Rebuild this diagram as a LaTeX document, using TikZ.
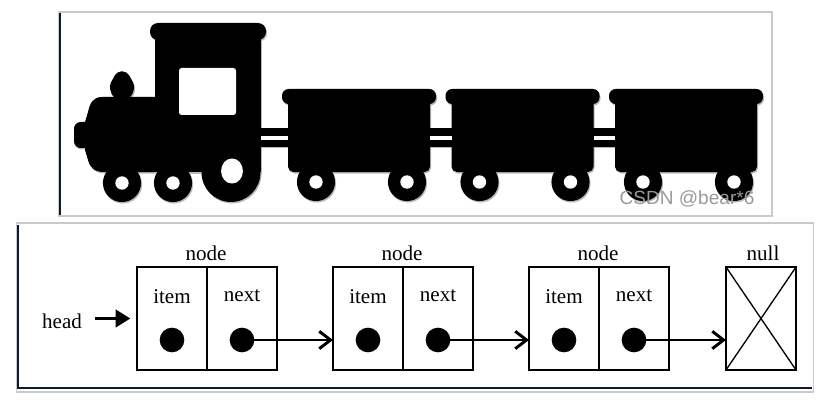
\documentclass[tikz,border=0pt]{standalone}
\usepackage{fontspec}
\setmainfont{Liberation Serif}
\newfontfamily\marksans{Liberation Sans}
\usetikzlibrary{arrows.meta}
\definecolor{framegrey}{gray}{0.79}
\definecolor{darkrule}{RGB}{15,25,45}
\definecolor{softshadow}{gray}{0.72}
\tikzset{
  x=0.75pt,y=-0.75pt,
  frameline/.style={draw=framegrey,line width=0.9pt},
  darkline/.style={draw=darkrule,line width=0.9pt},
  cell/.style={draw=black,line width=2pt,minimum width=52.5pt,minimum height=77.25pt,inner sep=0pt,outer sep=0pt},
  crossline/.style={draw=black,line width=1pt},
  ptr/.style={circle,fill=black,minimum size=18.5pt,inner sep=0pt,outer sep=0pt},
  lbl/.style={font=\fontsize{15.8pt}{17pt}\selectfont,inner sep=0pt,text=black},
  linkarrow/.style={draw=black,line width=2.2pt,-{Straight Barb[length=8.5pt,width=13pt,line width=2.2pt]}},
  headarrow/.style={draw=black,line width=2.2pt,-{Stealth[length=11pt,width=13pt,inset=0pt]}},
  watermark/.style={font=\marksans\fontsize{14.3pt}{16pt}\selectfont,text=black!40,inner sep=0pt}
}
\newcommand{\trainshape}[1]{%
  \fill[#1,rounded corners=6pt] (150,23) rectangle (266,40);
  \fill[#1] (155,32) rectangle (261,172);
  \fill[#1] (155,97) -- (102,97) .. controls (93,97) and (90,103) .. (88,112) -- (85,122) -- (85,150) -- (88,160) .. controls (90,168) and (95,172) .. (104,172) -- (155,172) -- cycle;
  \fill[#1,rounded corners=5pt] (74,122) rectangle (92,148);
  \fill[#1,rounded corners=3pt] (113,98) -- (109,86) -- (117,71.5) -- (127,71.5) -- (135,86) -- (131,98) -- cycle;
  \fill[#1] (231,172.5) circle[radius=22.1pt];
  \fill[#1] (122,183) circle[radius=14.3pt];
  \fill[#1] (173,183) circle[radius=14.3pt];
  \fill[#1] (258,128) rectangle (292,147);
  \fill[#1] (425,128) rectangle (455,147);
  \fill[#1] (590,128) rectangle (620,147);
  \foreach \wx in {0,163.5,327}{
    \fill[#1,rounded corners=5pt] (282+\wx,89) rectangle (436+\wx,104);
    \fill[#1,rounded corners=4pt] (288+\wx,95) rectangle (430+\wx,172);
    \fill[#1] (316+\wx,182) circle[radius=14.3pt];
    \fill[#1] (407+\wx,182) circle[radius=14.3pt];
  }
}
\begin{document}
\begin{tikzpicture}
\useasboundingbox (0,0) rectangle (836,403);
% top frame
\draw[frameline] (58.5,12) rectangle (772,216);
\draw[darkline] (60,13) -- (60,215);
% train
\begin{scope}[shift={(1,1.5)}]
  \trainshape{softshadow}
\end{scope}
\trainshape{black}
\fill[white,rounded corners=2pt] (179,68) rectangle (236,115);
\fill[white] (261,136) rectangle (288,140);
\fill[white] (430,136) rectangle (451.5,140);
\fill[white] (593.5,136) rectangle (615,140);
\fill[white] (232,171) ellipse[x radius=8.2pt,y radius=9.4pt];
\foreach \hx/\hy in {122/183,173/183,316/182,407/182,479.5/182,570.5/182,643/182,734/182}{
  \fill[white] (\hx,\hy) circle[radius=5pt];
}
\node[watermark] (mark) at (687,198.5) {CSDN @bear*6};
% bottom frame
\draw[frameline] (16.5,223) rectangle (813.5,392);
\draw[darkline] (18,225) -- (18,388) -- (812,388);
% list
\foreach \nm/\lx in {a/172,b/368,c/564}{
  \node[cell] (\nm item) at (\lx,318.5) {};
  \node[cell] (\nm next) at (\lx+70,318.5) {};
  \node[ptr] (\nm idot) at (\lx,340) {};
  \node[ptr] (\nm ndot) at (\lx+70,340) {};
  \node[lbl] (\nm itxt) at (\lx,297) {item};
  \node[lbl] (\nm ntxt) at (\lx+70,296) {next};
  \node[lbl] (\nm top) at (\lx+34,253) {node};
}
\node[cell] (nullcell) at (761,318.5) {};
\draw[crossline] (nullcell.north west) -- (nullcell.south east);
\draw[crossline] (nullcell.north east) -- (nullcell.south west);
\node[lbl] (nulltxt) at (763,253) {null};
\node[lbl] (head) at (62,321) {head};
\draw[headarrow,shorten <=9.5pt,shorten >=5pt] (head.east |- aitem.west) -- (aitem.west);
\draw[linkarrow] (andot.center) -- (andot.center -| bitem.west);
\draw[linkarrow] (bndot.center) -- (bndot.center -| citem.west);
\draw[linkarrow] (cndot.center) -- (cndot.center -| nullcell.west);
\end{tikzpicture}
\end{document}
